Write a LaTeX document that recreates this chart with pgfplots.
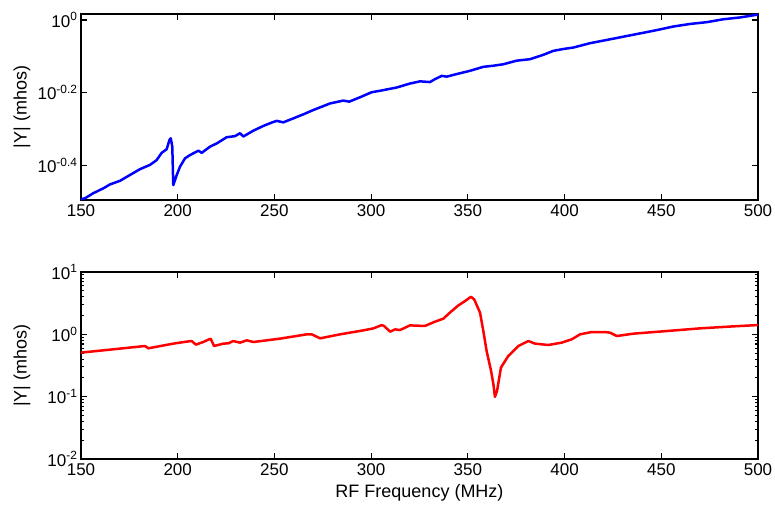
\documentclass[border=0pt]{standalone}
\usepackage{fontspec}
\setmainfont{Liberation Sans}
\usepackage{pgfplots}
\pgfplotsset{compat=1.18}
\pgfplotsset{
  myax/.style={
    scale only axis, width=677pt, anchor=south west,
    xmin=150, xmax=500,
    xtick={150,200,...,500},
    /pgf/number format/assume math mode=true,
    /pgf/number format/set thousands separator={},
    tick label style={font=\fontsize{17}{19}\selectfont},
    label style={font=\fontsize{18}{20}\selectfont},
    tick align=inside,
    major tick length=6pt, minor tick length=3pt,
    every tick/.style={black, line width=1.1pt},
    axis line style={line width=1.4pt},
    ylabel={|Y| (mhos)},
    ylabel style={at={(axis description cs:-0.0871,0.5)}, anchor=center},
    xticklabel style={yshift=-1pt},
  }
}
\begin{document}
\begin{tikzpicture}[x=1pt,y=1pt]
\useasboundingbox (0,0) rectangle (775,512);
\begin{semilogyaxis}[myax, at={(81pt,312pt)}, height=186pt,
  ymin=0.3192, ymax=1.0387,
  ytick={0.398107,0.630957,1},
  yticklabels={10\textsuperscript{-0.4},10\textsuperscript{-0.2},10\textsuperscript{0}},
  minor ytick={},
]
\addplot[blue, line width=2.5pt, line join=round] coordinates {
(150.0,0.3206) (152.1,0.3228) (156.4,0.3334) (161.5,0.3436) (165.0,0.3524) (170.2,0.3606)
(175.3,0.3741) (180.5,0.3882) (185.7,0.3990) (189.1,0.4111) (191.7,0.4305) (194.3,0.4406)
(195.7,0.4667) (196.4,0.4721) (197.2,0.4477) (197.7,0.3508) (199.5,0.3741) (201.2,0.3945)
(203.8,0.4159) (206.4,0.4246) (210.7,0.4365) (212.4,0.4305) (216.7,0.4477) (220.2,0.4571)
(225.3,0.4753) (229.6,0.4786) (232.2,0.4875) (233.9,0.4775) (239.1,0.4955) (244.2,0.5105)
(249.4,0.5236) (251.2,0.5272) (254.6,0.5224) (259.8,0.5358) (264.9,0.5495) (270.1,0.5649)
(278.7,0.5888) (285.6,0.5998) (288.7,0.5957) (294.2,0.6124) (300.3,0.6324) (304.6,0.6383)
(313.2,0.6516) (320.1,0.6683) (325.3,0.6776) (330.4,0.6745) (333.0,0.6871) (336.5,0.7015)
(339.1,0.6982) (344.2,0.7096) (351.1,0.7244) (358.0,0.7430) (363.2,0.7482) (368.3,0.7551)
(375.2,0.7727) (382.1,0.7798) (389.0,0.8017) (394.2,0.8222) (399.3,0.8318) (404.5,0.8395)
(413.1,0.8630) (421.8,0.8810) (430.4,0.8995) (439.0,0.9183) (447.6,0.9376) (456.2,0.9594)
(464.8,0.9750) (473.5,0.9863) (482.1,1.0046) (490.7,1.0162) (500.0,1.0351)
};
\end{semilogyaxis}
\begin{semilogyaxis}[myax, at={(81pt,53pt)}, height=187pt,
  ymin=0.01, ymax=10,
  ytick={0.01,0.1,1,10},
  yticklabels={10\textsuperscript{-2},10\textsuperscript{-1},10\textsuperscript{0},10\textsuperscript{1}},
  minor ytick={0.02,0.03,0.04,0.05,0.06,0.07,0.08,0.09,0.2,0.3,0.4,0.5,0.6,0.7,0.8,0.9,2,3,4,5,6,7,8,9},
  xlabel={RF Frequency (MHz)},
  xlabel style={at={(axis description cs:0.5,-0.182)}, anchor=center},
]
\addplot[red, line width=2.5pt, line join=round] coordinates {
(150.0,0.5093) (166.7,0.5754) (183.1,0.6501) (184.8,0.5970) (197.7,0.7096) (204.6,0.7638)
(207.2,0.7816) (209.4,0.6839) (213.2,0.7534) (217.0,0.8531) (218.8,0.6501) (223.6,0.7096)
(226.2,0.7178) (228.7,0.7816) (232.2,0.7362) (235.7,0.8017) (239.1,0.7534) (252.9,0.8531)
(266.7,1.0) (269.3,1.0) (273.6,0.8630) (277.0,0.9057) (283.9,1.0) (296.0,1.1588)
(301.2,1.2474) (305.5,1.4093) (306.7,1.3583) (309.8,1.1041) (312.4,1.2023) (314.9,1.1722)
(320.1,1.3932) (322.7,1.3804) (327.8,1.3646) (333.0,1.5959) (337.3,1.7824) (341.6,2.3605)
(345.1,2.9107) (348.5,3.4119) (351.6,4.0087) (353.3,3.6308) (356.3,2.2233) (358.0,1.1298)
(359.7,0.5408) (362.0,0.2588) (363.2,0.1585) (364.0,0.0993) (365.1,0.1239) (367.1,0.2931)
(370.9,0.4498) (376.1,0.6501) (381.3,0.7816) (384.7,0.7096) (391.6,0.6745) (398.5,0.7362)
(403.7,0.8318) (408.0,1.0) (414.0,1.0889) (420.9,1.0889) (423.5,1.0641) (427.0,0.9397)
(435.6,1.0257) (452.8,1.1298) (470.0,1.2474) (487.2,1.3428) (500.0,1.4093)
};
\end{semilogyaxis}
\end{tikzpicture}
\end{document}
